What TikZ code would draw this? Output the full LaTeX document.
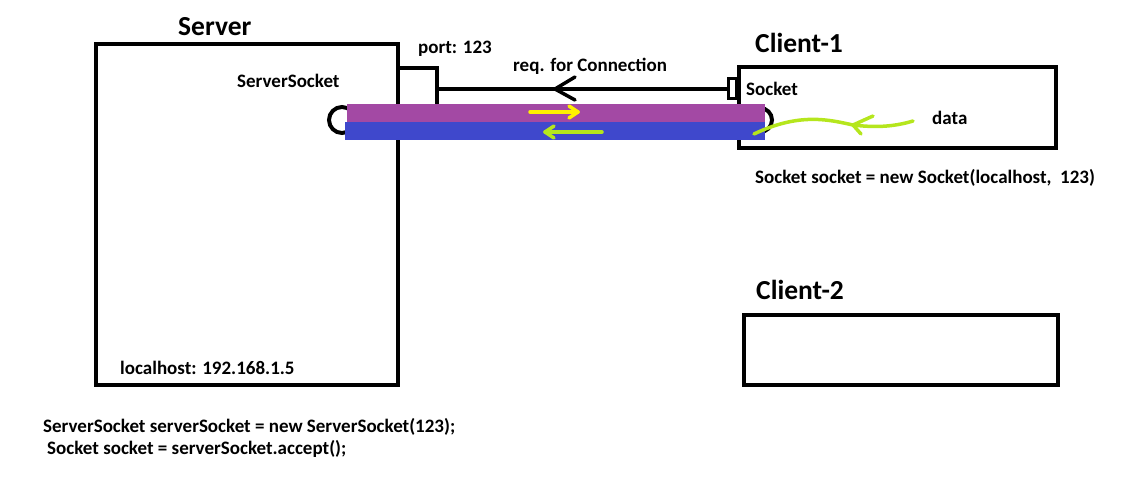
\documentclass[tikz,border=0pt]{standalone}
\usepackage{fontspec}
\setmainfont{Carlito}
\usetikzlibrary{arrows.meta,calc}
\definecolor{pbar}{RGB}{163,73,164}
\definecolor{bbar}{RGB}{63,72,204}
\definecolor{ylw}{RGB}{255,242,0}
\definecolor{lime}{RGB}{181,230,29}
\tikzset{
  lbl/.style={font=\bfseries\fontsize{19}{21}\selectfont, inner sep=0pt, anchor=west},
  title/.style={font=\bfseries\fontsize{27.5}{30}\selectfont, inner sep=0pt, anchor=west},
  chev/.style={line width=3.5pt, line cap=round, line join=round},
}
\begin{document}
\begin{tikzpicture}[x=1pt,y=-1pt]
\useasboundingbox (0,0) rectangle (1121,489);
% server box
\draw[line width=4.5pt] (96,44) rectangle (398,385);
\node[title] (srvt) at (178,27) {Server};
\node[lbl] (ssl) at (237,81) {ServerSocket};
\node[lbl] (lh) at (120,368) {localhost: 192.168.1.5};
% port box
\coordinate (pA) at (398,68);
\coordinate (pB) at (437,68);
\coordinate (pC) at (437,106);
\draw[line width=3.5pt, line join=miter] (pA) -- (pB) -- (pC);
\node[lbl] (port) at (418,49) {port: 123};
% client 1
\draw[line width=4.5pt] (739,67) rectangle (1056,148);
\node[title] (c1t) at (755,43) {Client-1};
\node[lbl] (sock) at (746,89) {Socket};
\node[lbl] (data) at (932,118) {data};
\node[lbl] (sockcode) at (755,178) {Socket socket = new Socket(localhost,\ \ 123)};
% socket stub
\node[draw=black, line width=3pt, fill=white, minimum width=8pt, minimum height=20pt, inner sep=0pt] (stub) at (732,89) {};
% request line
\draw[line width=3.5pt] (pB |- stub.west) -- (stub.west);
\node[lbl] (req) at (513,66) {req. for Connection};
\coordinate (rq) at (555,89);
\draw[chev] ($(rq)+(20,-12)$) -- (rq) -- ($(rq)+(20,11)$);
% circles
\draw[line width=4pt] (342,120) circle (13);
\draw[line width=4pt] (760,120) circle (12);
% bars
\node[fill=pbar, minimum width=418pt, minimum height=18pt, inner sep=0pt, anchor=north west] (pb) at (347,104) {};
\node[fill=bbar, minimum width=420pt, minimum height=18pt, inner sep=0pt, anchor=north west] (bb) at (345,122) {};
% yellow arrow
\coordinate (y1) at (530,112);
\coordinate (y2) at (578,112);
\draw[chev, draw=ylw] (y1) -- (y2);
\draw[chev, draw=ylw] ($(y2)+(-9,-6)$) -- (y2) -- ($(y2)+(-9,6)$);
% lime arrow on blue
\coordinate (g1) at (602,132);
\coordinate (g2) at (545,132);
\draw[chev, draw=lime] (g1) -- (g2);
\draw[chev, draw=lime] ($(g2)+(9,-6)$) -- (g2) -- ($(g2)+(9,6)$);
% lime curve
\coordinate (cs) at (913,121);
\coordinate (ch) at (853,125);
\coordinate (ce) at (754,134);
\draw[chev, draw=lime] (cs) .. controls (890,128) and (870,127) .. (ch) .. controls (830,120) and (800,112) .. (ce);
\draw[chev, draw=lime] (873,116) -- (ch) -- (861,134);
% client 2
\draw[line width=4.5pt] (744,315) rectangle (1058,385);
\node[title] (c2t) at (756,290) {Client-2};
% code
\node[lbl] (code1) at (43,427) {ServerSocket serverSocket = new ServerSocket(123);};
\node[lbl] (code2) at (47,449) {Socket socket = serverSocket.accept();};
\end{tikzpicture}
\end{document}
